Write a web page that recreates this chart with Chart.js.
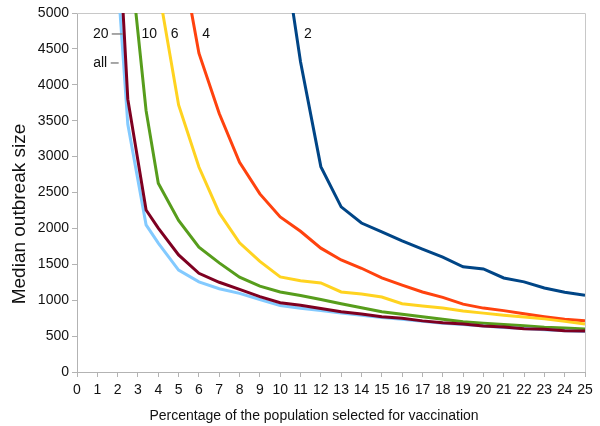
<!DOCTYPE html>
<html>
<head>
<meta charset="utf-8">
<script src="https://cdn.jsdelivr.net/npm/chart.js@4/dist/chart.umd.min.js"></script>
<style>
  body { margin: 0; background: #fff; }
  #wrap { width: 600px; height: 426px; }
</style>
</head>
<body>
<div id="wrap"><canvas id="myChart"></canvas></div>
<script>
// x: percentage of the population selected for vaccination
const pct = [2, 2.5, 3.4, 4, 5, 6, 7, 8, 9, 10, 11, 12, 13, 14, 15, 16, 17, 18, 19, 20, 21, 22, 23, 24, 25];

// median outbreak size per series (null = no point)
const vals20 = [6410, 3800, 2256, 2005, 1630, 1375, 1250, 1150, 1050, 965, 930, 885, 840, 808, 770, 750, 712, 685, 668, 642, 627, 603, 595, 575, 570];
const valsAll = [5490, 3450, 2050, 1795, 1420, 1255, 1160, 1095, 1010, 925, 887, 855, 820, 790, 760, 735, 705, 680, 660, 640, 620, 605, 590, 575, 565];
const vals10 = [null, 6090, 3640, 2630, 2110, 1740, 1520, 1320, 1195, 1115, 1065, 1010, 950, 895, 840, 805, 770, 735, 700, 680, 660, 645, 625, 612, 600];
const vals6 = [null, null, null, 5360, 3720, 2855, 2215, 1800, 1540, 1325, 1270, 1240, 1115, 1086, 1045, 950, 920, 890, 850, 820, 790, 765, 740, 705, 670];
const vals4 = [null, null, null, null, 6000, 4440, 3600, 2920, 2480, 2160, 1960, 1725, 1560, 1445, 1310, 1210, 1115, 1040, 945, 890, 855, 810, 770, 735, 715];
const vals2 = [null, null, null, null, null, null, null, null, null, 6210, 4320, 2860, 2300, 2075, 1950, 1825, 1710, 1600, 1465, 1435, 1310, 1255, 1170, 1110, 1070];

const seriesNames = ['20', 'all', '10', '6', '4', '2'];
const seriesVals = [vals20, valsAll, vals10, vals6, vals4, vals2];
const seriesColors = ['#7e0021', '#83caff', '#579d1c', '#ffd320', '#ff420e', '#004586'];

// curve labels (data coordinates)
const curveLabels = [
  { text: '20', x: 1.17, y: 4708, lineFrom: 1.71, lineTo: 2.26 },
  { text: 'all', x: 1.14, y: 4304, lineFrom: 1.66, lineTo: 2.05 },
  { text: '10', x: 3.56, y: 4708 },
  { text: '6', x: 4.81, y: 4708 },
  { text: '4', x: 6.36, y: 4708 },
  { text: '2', x: 11.36, y: 4708 }
];

const xTitle = 'Percentage of the population selected for vaccination';
const yTitle = 'Median outbreak size';

const FONT = '"Liberation Sans", Arial, sans-serif';

function toPoints(vals) {
  return pct.map((x, i) => ({ x: x, y: vals[i] })).filter(p => p.y !== null);
}

// plot border (top/right), curve labels, axis titles
const framePlugin = {
  id: 'frame',
  beforeDatasetsDraw(chart) {
    const { ctx, chartArea: a } = chart;
    ctx.save();
    ctx.strokeStyle = '#c8c8c8';
    ctx.lineWidth = 1;
    ctx.beginPath();
    ctx.moveTo(a.left, a.top + 0.5);
    ctx.lineTo(a.right + 0.5, a.top + 0.5);
    ctx.lineTo(a.right + 0.5, a.bottom);
    ctx.stroke();
    ctx.restore();
  },
  afterDatasetsDraw(chart) {
    const { ctx, scales: { x, y } } = chart;
    ctx.save();
    ctx.font = '14px ' + FONT;
    ctx.fillStyle = '#111';
    ctx.textAlign = 'center';
    ctx.textBaseline = 'middle';
    curveLabels.forEach(l => {
      const py = y.getPixelForValue(l.y);
      ctx.fillText(l.text, x.getPixelForValue(l.x), py);
      if (l.lineFrom !== undefined) {
        ctx.strokeStyle = '#8a8a8a';
        ctx.lineWidth = 1.5;
        ctx.beginPath();
        ctx.moveTo(x.getPixelForValue(l.lineFrom), py);
        ctx.lineTo(x.getPixelForValue(l.lineTo), py);
        ctx.stroke();
      }
    });

    // axis titles
    ctx.textBaseline = 'alphabetic';
    ctx.fillText(xTitle, 314, 420);
    ctx.font = '19px ' + FONT;
    ctx.translate(25, 214);
    ctx.rotate(-Math.PI / 2);
    ctx.fillText(yTitle, 0, 0);
    ctx.restore();
  }
};

function drawChart() {
  const ctx = document.getElementById('myChart').getContext('2d');

  const data = {
    datasets: seriesNames.map((name, i) => ({
      label: name,
      data: toPoints(seriesVals[i]),
      borderColor: seriesColors[i],
      backgroundColor: seriesColors[i],
      borderWidth: 3,
      pointRadius: 0,
      tension: 0,
      clip: 0
    }))
  };

  const config = {
    type: 'line',
    data: data,
    options: {
      responsive: true,
      maintainAspectRatio: false,
      animation: false,
      layout: { padding: { top: 13, right: 15, left: 0, bottom: 0 } },
      plugins: {
        legend: { display: false },
        tooltip: { enabled: false }
      },
      scales: {
        x: {
          type: 'linear',
          min: 0,
          max: 25,
          afterFit: s => { s.height = 54; },
          ticks: {
            stepSize: 1,
            autoSkip: false,
            maxRotation: 0,
            padding: 5,
            color: '#111',
            font: { family: FONT, size: 14 }
          },
          grid: { drawOnChartArea: false, tickLength: 5, color: '#b3b3b3' },
          border: { color: '#b3b3b3' }
        },
        y: {
          min: 0,
          max: 5000,
          afterFit: s => { s.width = 77; },
          ticks: {
            stepSize: 500,
            padding: 3,
            color: '#111',
            font: { family: FONT, size: 14 },
            callback: v => String(v)
          },
          grid: { drawOnChartArea: false, tickLength: 5, color: '#b3b3b3' },
          border: { color: '#b3b3b3' }
        }
      }
    },
    plugins: [framePlugin]
  };

  new Chart(ctx, config);
}

window.onload = drawChart;
</script>
</body>
</html>
